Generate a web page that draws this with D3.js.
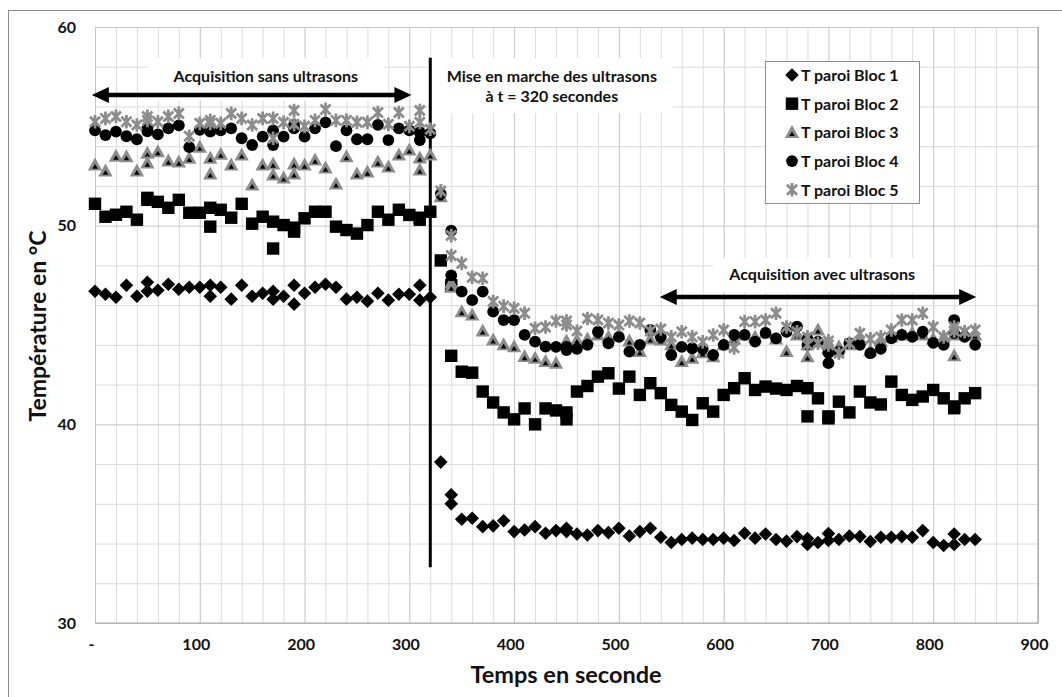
<!DOCTYPE html>
<html>
  <head>
    <meta http-equiv="Content-Type" content="text/html;charset=utf-8"/>
    <title>Température paroi</title>
    <script src="https://d3js.org/d3.v7.min.js"></script>
  </head>
  <body style="margin:0">
    <style>
    text {
    font-family: Lato, "Open Sans", sans-serif;
    font-weight: bold;
    fill: #111;
    }
    </style>
    <script type="text/javascript">
        // temps en secondes (quelques instants doublés)
        const time = [0,10,20,30,40,50,50,60,70,80,
            90,100,110,110,120,130,140,150,160,170,
            170,180,190,190,200,210,220,230,240,250,
            260,270,280,290,300,310,310,320,330,340,
            340,350,360,370,380,390,400,410,420,430,
            440,450,450,460,470,480,490,500,510,520,
            530,540,550,560,570,580,590,600,610,620,
            630,640,650,660,670,680,680,690,700,700,
            710,720,730,740,750,760,770,780,790,800,
            810,820,820,830,840]

        const bloc1 = [46.7,46.55,46.4,47.0,46.45,47.15,46.7,46.75,47.05,46.8,
            46.9,46.9,47.0,46.45,46.9,46.3,47.0,46.45,46.6,46.7,
            46.3,46.45,47.0,46.05,46.6,46.9,47.05,46.9,46.3,46.4,
            46.2,46.6,46.25,46.55,46.55,47.0,46.25,46.4,38.1,36.45,
            36.0,35.22,35.27,34.85,34.89,35.15,34.6,34.68,34.85,34.52,
            34.65,34.77,34.6,34.48,34.43,34.65,34.55,34.77,34.38,34.6,
            34.77,34.32,34.05,34.2,34.27,34.2,34.2,34.27,34.15,34.52,
            34.27,34.48,34.2,34.12,34.35,34.25,33.95,34.05,34.5,34.15,
            34.2,34.38,34.35,34.1,34.32,34.32,34.35,34.32,34.65,34.05,
            33.9,34.48,33.95,34.2,34.2]

        const bloc2 = [51.1,50.45,50.55,50.7,50.3,51.4,51.3,51.2,50.9,51.3,
            50.65,50.65,50.9,49.95,50.8,50.4,51.1,50.1,50.45,48.85,
            50.2,50.03,49.7,49.9,50.37,50.7,50.7,49.95,49.78,49.6,
            50.03,50.7,50.3,50.8,50.54,50.3,50.4,50.7,48.25,47.0,
            43.45,42.65,42.6,41.65,41.1,40.6,40.25,40.8,40.0,40.8,
            40.7,40.6,40.25,41.65,41.93,42.4,42.57,41.8,42.4,41.48,
            42.07,41.57,40.98,40.64,40.22,41.06,40.64,41.48,41.82,42.32,
            41.73,41.9,41.8,41.73,41.93,41.82,40.4,41.31,40.3,40.4,
            41.14,40.6,41.65,41.1,41.0,42.15,41.48,41.23,41.4,41.73,
            41.31,40.81,40.9,41.31,41.57]

        const bloc3 = [53.05,52.75,53.5,53.47,52.75,53.65,53.15,53.72,53.25,53.2,
            53.39,53.95,53.39,52.6,53.6,53.05,53.56,52.05,53.05,53.1,
            52.55,52.4,53.1,52.6,53.05,53.3,52.9,52.1,53.47,52.6,
            52.7,53.2,52.95,53.56,53.81,52.8,53.4,53.56,51.45,47.1,
            46.9,45.67,45.5,44.7,44.25,44.0,43.9,43.41,43.33,43.16,
            43.08,44.2,44.0,44.25,44.3,44.5,44.4,44.5,44.2,43.66,
            44.3,44.25,44.0,43.16,43.33,43.6,43.4,44.0,44.3,44.5,
            44.4,44.6,44.3,43.66,44.5,43.4,44.0,44.75,44.0,43.8,
            43.9,44.0,44.3,43.7,44.2,44.4,44.5,44.6,44.5,44.3,
            44.4,43.45,44.5,44.6,44.5]

        const bloc4 = [54.8,54.56,54.73,54.5,54.35,54.75,54.9,54.6,54.9,55.05,
            53.95,54.82,54.73,54.9,54.8,54.9,54.4,54.06,54.48,54.06,
            54.8,54.48,55.07,54.9,54.48,54.9,55.2,54.0,54.8,54.35,
            54.35,55.07,54.31,54.9,54.8,54.31,54.7,54.65,51.6,49.75,
            47.5,46.68,46.25,46.68,45.67,45.25,45.25,44.5,44.16,43.91,
            43.9,43.74,43.9,43.8,44.0,44.66,44.08,44.4,43.66,44.0,
            44.75,44.4,43.49,43.9,43.83,43.8,43.5,44.0,44.5,44.5,
            44.16,44.6,44.33,44.66,44.92,44.3,44.0,44.16,43.08,43.6,
            43.66,44.08,44.0,43.58,43.8,44.33,44.5,44.4,44.66,44.1,
            44.0,45.25,44.6,44.4,44.0]

        const bloc5 = [55.23,55.4,55.5,55.23,55.07,55.5,55.3,55.23,55.5,55.65,
            54.5,55.15,55.15,55.3,55.15,55.65,55.4,55.07,55.4,54.4,
            55.4,55.2,55.8,55.1,55.0,55.3,55.85,55.3,55.3,55.2,
            55.2,55.7,55.1,55.7,55.0,55.8,55.2,54.85,51.75,49.5,
            48.5,48.1,47.4,47.35,46.18,45.95,45.84,45.59,44.84,44.9,
            45.2,45.2,45.0,44.7,45.33,45.25,45.1,45.0,45.2,45.1,
            44.7,44.8,44.4,44.66,44.4,44.16,44.5,44.75,43.85,45.17,
            45.17,45.25,45.59,44.9,44.66,44.0,44.4,44.08,44.0,44.2,
            43.58,44.08,44.58,44.3,44.4,44.75,45.25,45.25,45.59,44.9,
            44.4,44.9,44.7,44.66,44.75]

        const seriesNames = ['T paroi Bloc 1', 'T paroi Bloc 2', 'T paroi Bloc 3', 'T paroi Bloc 4', 'T paroi Bloc 5']
        const seriesValues = [bloc1, bloc2, bloc3, bloc4, bloc5]

        const xTicks = [0,100,200,300,400,500,600,700,800,900]
        const yTicks = [30,40,50,60]

        const width = 1062,
              height = 697
        const plot = {left: 95, right: 1038, top: 27, bottom: 623}
        const gray = '#8c8c8c'

        const svg = d3.select('body').append('svg')
            .attr('width', width)
            .attr('height', height)

        svg.append('rect')
            .attr('x', 8.5).attr('y', 10.5)
            .attr('width', 1060).attr('height', 700)
            .attr('fill', '#fff').attr('stroke', '#8a8a8a')

        const x = d3.scaleLinear().domain([0, 900]).range([plot.left, plot.right])
        const y = d3.scaleLinear().domain([30, 60]).range([plot.bottom, plot.top])

        // quadrillage
        svg.append('g')
            .attr('transform', 'translate(0,' + plot.bottom + ')')
            .call(d3.axisBottom(x).tickValues(d3.range(0, 901, 20)).tickSize(-(plot.bottom - plot.top)).tickFormat(''))
            .call(g => g.select('.domain').remove())
            .call(g => g.selectAll('line').attr('stroke', d => d % 100 === 0 ? '#c4c4c4' : '#dcdcdc'))

        svg.append('g')
            .attr('transform', 'translate(' + plot.left + ',0)')
            .call(d3.axisLeft(y).tickValues(d3.range(30, 61, 2)).tickSize(-(plot.right - plot.left)).tickFormat(''))
            .call(g => g.select('.domain').remove())
            .call(g => g.selectAll('line').attr('stroke', d => d % 10 === 0 ? '#c8c8c8' : '#dcdcdc'))

        svg.append('path')
            .attr('d', 'M' + plot.left + ',' + plot.bottom + 'H' + plot.right + 'V' + plot.top)
            .attr('fill', 'none').attr('stroke', '#a6a6a6').attr('stroke-width', 1.2)

        // axes
        svg.append('g')
            .attr('transform', 'translate(-4,' + (plot.bottom + 13) + ')')
            .call(d3.axisBottom(x).tickValues(xTicks).tickSize(0).tickFormat(d => d === 0 ? '-' : d))
            .call(g => g.select('.domain').remove())
            .selectAll('text').style('font-size', '16px').attr('fill', '#222')

        svg.append('g')
            .attr('transform', 'translate(' + (plot.left - 16) + ',0)')
            .call(d3.axisLeft(y).tickValues(yTicks).tickSize(0))
            .call(g => g.select('.domain').remove())
            .selectAll('text').style('font-size', '16px').attr('fill', '#222')

        svg.append('text')
            .attr('x', 566).attr('y', 683)
            .attr('text-anchor', 'middle')
            .style('font-size', '23.5px')
            .text('Temps en seconde')

        svg.append('text')
            .attr('transform', 'translate(46,326) rotate(-90)')
            .attr('text-anchor', 'middle')
            .style('font-size', '23px')
            .text('Température en °C')

        // annotations : cadres blancs, flèches, trait à t = 320 s
        const boxes = [
            {t0: 50, t1: 277, v0: 58.44, v1: 56.3},
            {t0: 321.6, t1: 551.6, v0: 58.44, v1: 55.67},
            {t0: 589.8, t1: 798.8, v0: 48.37, v1: 46.66}
        ]
        svg.selectAll('.box').data(boxes).enter().append('rect')
            .attr('x', d => x(d.t0)).attr('y', d => y(d.v0))
            .attr('width', d => x(d.t1) - x(d.t0)).attr('height', d => y(d.v1) - y(d.v0))
            .attr('fill', '#fff')

        svg.append('line')
            .attr('x1', x(320)).attr('x2', x(320))
            .attr('y1', y(58.45)).attr('y2', y(32.8))
            .attr('stroke', '#000').attr('stroke-width', 3)

        const arrows = [
            {t0: -3, t1: 302, v: 56.58},
            {t0: 539, t1: 841, v: 46.41}
        ]
        arrows.forEach(a => {
            const x0 = x(a.t0), x1 = x(a.t1), yy = y(a.v), hl = 17, hw = 8
            svg.append('line')
                .attr('x1', x0 + hl - 2).attr('x2', x1 - hl + 2)
                .attr('y1', yy).attr('y2', yy)
                .attr('stroke', '#000').attr('stroke-width', 4.5)
            svg.append('path')
                .attr('d', 'M' + x0 + ',' + yy + 'L' + (x0 + hl) + ',' + (yy - hw) + 'L' + (x0 + hl) + ',' + (yy + hw) + 'Z'
                    + 'M' + x1 + ',' + yy + 'L' + (x1 - hl) + ',' + (yy - hw) + 'L' + (x1 - hl) + ',' + (yy + hw) + 'Z')
                .attr('fill', '#000')
        })

        const notes = [
            {t: 163, v: 57.23, text: 'Acquisition sans ultrasons'},
            {t: 436, v: 57.23, text: 'Mise en marche des ultrasons'},
            {t: 436, v: 56.2, text: 'à t = 320 secondes'},
            {t: 694, v: 47.27, text: 'Acquisition avec ultrasons'}
        ]
        svg.selectAll('.note').data(notes).enter().append('text')
            .attr('x', d => x(d.t)).attr('y', d => y(d.v))
            .attr('text-anchor', 'middle')
            .style('font-size', '16px')
            .text(d => d.text)

        // marqueurs
        const markers = [
            g => g.append('path').attr('d', 'M0,-6.8L6.8,0L0,6.8L-6.8,0Z').attr('fill', '#000'),
            g => g.append('rect').attr('x', -6.2).attr('y', -6.2).attr('width', 12.4).attr('height', 12.4).attr('fill', '#000'),
            g => {
                g.append('path').attr('d', 'M0,-7.5L7.2,5.5L-7.2,5.5Z').attr('fill', gray)
                g.append('path').attr('d', 'M0,-1L2.8,3.6L-2.8,3.6Z').attr('fill', '#000')
            },
            g => g.append('circle').attr('r', 5.9).attr('fill', '#000'),
            g => g.append('path').attr('d', 'M-5,-5L5,5M-5,5L5,-5M0,-6.8V6.8').attr('stroke', gray).attr('stroke-width', 2.8).attr('fill', 'none')
        ]

        seriesValues.forEach((vals, k) => {
            const pts = time.map((t, i) => [t, vals[i]])
            svg.append('g').selectAll('g')
                .data(pts)
                .enter()
                .append('g')
                .attr('transform', d => 'translate(' + [x(d[0]), y(d[1])] + ')')
                .each(function() { markers[k](d3.select(this)) })
        })

        // légende
        const legend = svg.append('g')
        legend.append('rect')
            .attr('x', 765.5).attr('y', 61.5).attr('width', 154).attr('height', 142)
            .attr('fill', '#fff').attr('stroke', gray)
        seriesNames.forEach((name, k) => {
            const yy = 75 + k * 28.7
            markers[k](legend.append('g').attr('transform', 'translate(792,' + yy + ')'))
            legend.append('text')
                .attr('x', 801).attr('y', yy + 6)
                .style('font-size', '16px')
                .text(name)
        })
    </script>
  </body>
</html>
